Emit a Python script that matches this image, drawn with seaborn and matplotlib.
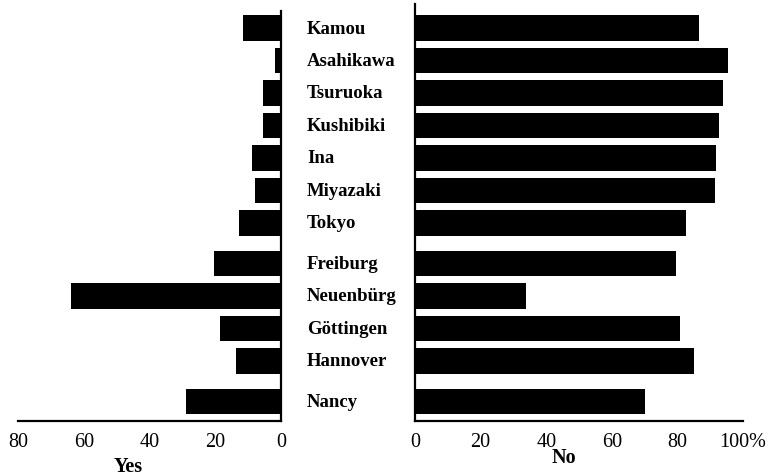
import matplotlib
matplotlib.use('Agg')

import matplotlib.pyplot as plt
import matplotlib.transforms as mtransforms
import seaborn as sns
import pandas as pd

# -----------------------------
# DATA (percent answering yes / no)
# -----------------------------
sites = ["Kamou", "Asahikawa", "Tsuruoka", "Kushibiki", "Ina", "Miyazaki", "Tokyo",
         "Freiburg", "Neuenbürg", "Göttingen", "Hannover", "Nancy"]
yes_pct = [11.6, 1.8, 5.5, 5.5, 8.8, 7.9, 12.8, 20.4, 64.0, 18.6, 13.7, 28.9]
no_pct = [86.5, 95.3, 93.8, 92.6, 91.7, 91.4, 82.5, 79.5, 33.8, 80.8, 85.1, 70.2]
# country groups: Japan, Germany, France (small gap between groups)
group = [0, 0, 0, 0, 0, 0, 0, 1, 1, 1, 1, 2]

yes_ticks = [80, 60, 40, 20, 0]
no_ticks = [0, 20, 40, 60, 80, 100]
no_tick_labels = ["0", "20", "40", "60", "80", "100%"]

df = pd.DataFrame({"site": sites, "yes": yes_pct, "no": no_pct, "group": group})
df["pos"] = df.index + 0.25 * df["group"]

# -----------------------------
# STYLE
# -----------------------------
sns.set_style("white")
plt.rcParams['font.family'] = ['Liberation Serif', 'DejaVu Serif']
plt.rcParams['text.color'] = 'black'

W, H = 774, 477
fig = plt.figure(figsize=(W / 100, H / 100), dpi=100)

bottom = 1 - 422 / H
height = 417 / H
ylim = (12.1, -0.74)

ax_yes = fig.add_axes([18 / W, bottom, 263 / W, height])
ax_no = fig.add_axes([415 / W, bottom, 328 / W, height])

sns.barplot(data=df, x="yes", y="pos", orient="h", native_scale=True,
            color="black", saturation=1, width=0.78, linewidth=0, ax=ax_yes)
sns.barplot(data=df, x="no", y="pos", orient="h", native_scale=True,
            color="black", saturation=1, width=0.78, linewidth=0, ax=ax_no)

# left panel: reversed axis, spine on the right
ax_yes.set_xlim(80, 0)
ax_yes.set_ylim(*ylim)
ax_yes.spines[["top", "left"]].set_visible(False)
ax_yes.spines["right"].set_bounds(12.1, -0.52)
ax_yes.set_xticks(yes_ticks)
ax_yes.set_xticklabels([str(t) for t in yes_ticks])

# right panel
ax_no.set_xlim(0, 100)
ax_no.set_ylim(*ylim)
ax_no.spines[["top", "right"]].set_visible(False)
ax_no.set_xticks(no_ticks)
ax_no.set_xticklabels(no_tick_labels)

for ax in (ax_yes, ax_no):
    ax.set_yticks([])
    ax.set_xlabel("")
    ax.set_ylabel("")
    for sp in ax.spines.values():
        sp.set_linewidth(1.6)
        sp.set_color("black")
    ax.tick_params(axis="x", direction="in", length=5, width=1.6,
                   pad=8, labelsize=14.5, colors="black")

# site names between the panels
trans = mtransforms.blended_transform_factory(fig.transFigure, ax_no.transData)
for name, p in zip(df["site"], df["pos"]):
    fig.text(307 / W, p, name, transform=trans, ha="left", va="center",
             fontsize=13.5, fontweight="bold", color="black")

fig.text(128 / W, 1 - 467 / H, "Yes", ha="center", va="center",
         fontsize=14.5, fontweight="bold", color="black")
fig.text(564 / W, 1 - 458 / H, "No", ha="center", va="center",
         fontsize=14.5, fontweight="bold", color="black")

plt.savefig("out.png", dpi=100)
plt.close()
